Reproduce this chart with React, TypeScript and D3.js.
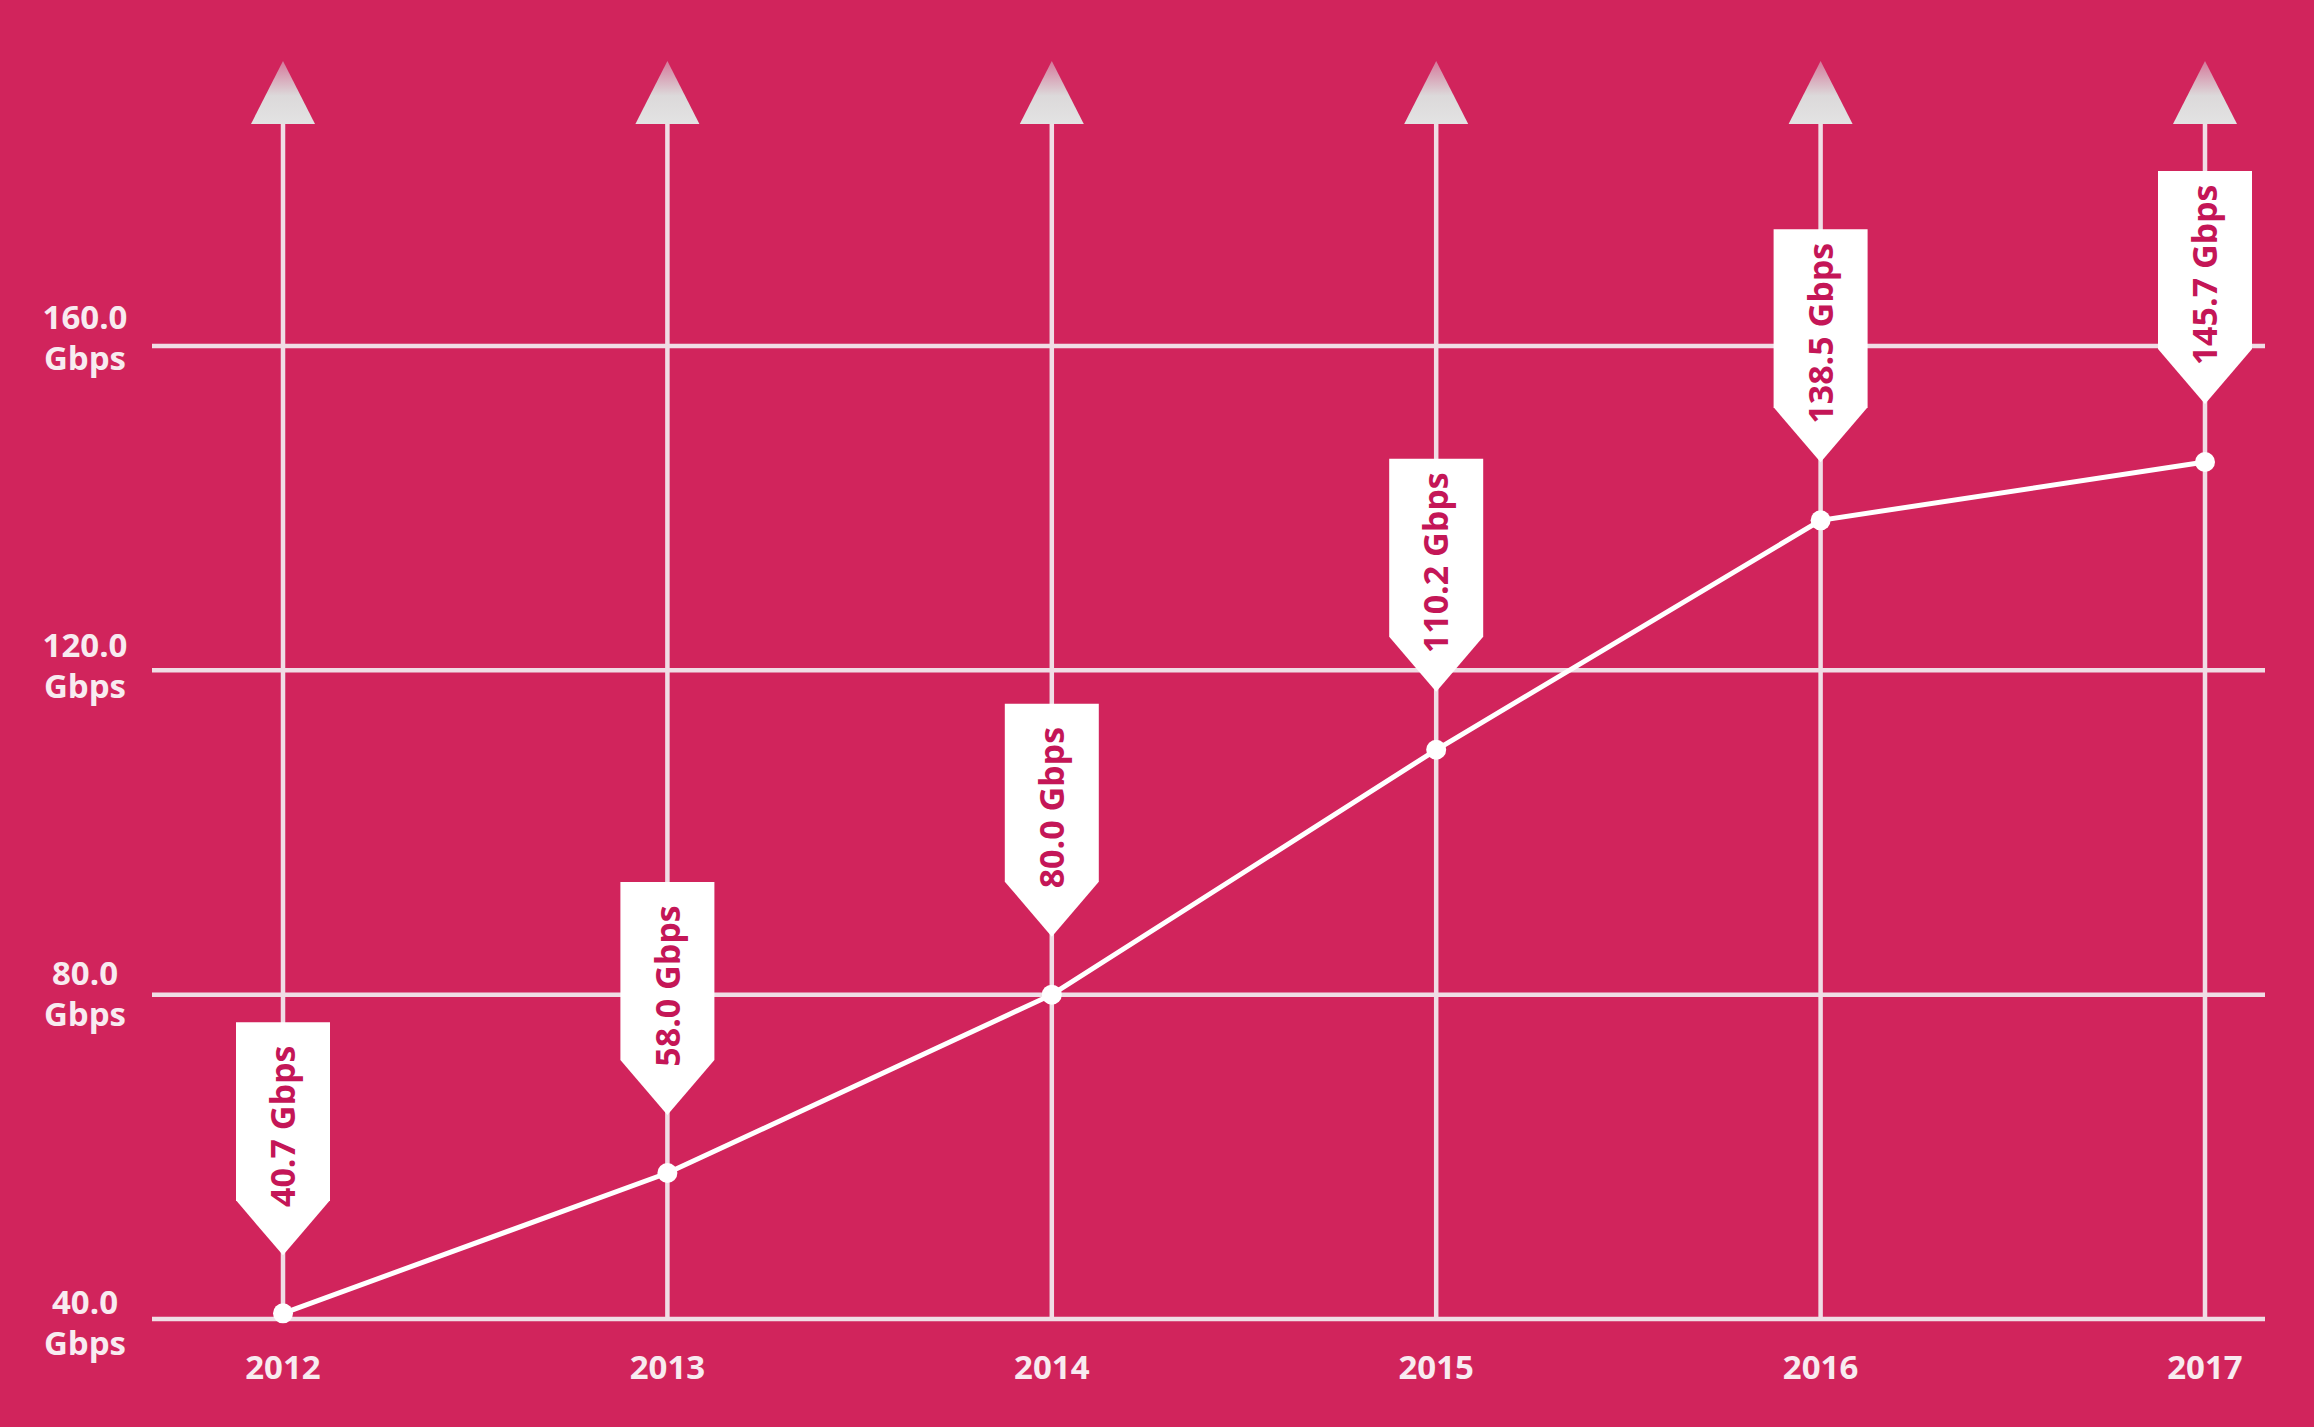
import React from "react";
import * as d3 from "d3";

const years = ["2012", "2013", "2014", "2015", "2016", "2017"];
const values = [40.7, 58.0, 80.0, 110.2, 138.5, 145.7];
const yTicks = [40, 80, 120, 160];
const unit = "Gbps";

const W = 2314;
const H = 1427;
const BG = "#d1245c";
const LIGHT = "#f0dde5";
const TEXT = "#f8ebf0";
const CALLOUT_TEXT = "#c41657";
const FONT = "'Open Sans', 'Noto Sans', sans-serif";

export default function App() {
  const x = d3.scalePoint<string>().domain(years).range([283, 2205]);
  const y = d3.scaleLinear().domain([40, 160]).range([1319, 346]);
  const gridX0 = 152;
  const gridX1 = 2265;
  const arrowTip = 61;
  const arrowBase = 124;
  const arrowHalf = 32;

  const line = d3
    .line<number>()
    .x((_, i) => x(years[i]) as number)
    .y((v) => y(v));

  const boxW = 94;
  const rectH = 178;
  const pointH = 55;
  const gap = 58;

  return (
    <div style={{ position: "absolute", left: 0, top: 0, width: W, height: H }}>
      <svg width={W} height={H} style={{ display: "block" }}>
        <defs>
          <linearGradient id="arrowGrad" x1="0" y1="0" x2="0" y2="1">
            <stop offset="0%" stopColor="#d5789a" />
            <stop offset="55%" stopColor="#dcd9da" />
            <stop offset="100%" stopColor="#e3e3e3" />
          </linearGradient>
        </defs>
        <rect x={0} y={0} width={W} height={H} fill={BG} />

        {yTicks.map((t) => (
          <line
            key={"g" + t}
            x1={gridX0}
            x2={gridX1}
            y1={y(t)}
            y2={y(t)}
            stroke={LIGHT}
            strokeWidth={4.5}
          />
        ))}

        {years.map((yr) => {
          const cx = x(yr) as number;
          return (
            <g key={"v" + yr}>
              <line
                x1={cx}
                x2={cx}
                y1={arrowBase}
                y2={y(40)}
                stroke={LIGHT}
                strokeWidth={4.5}
              />
              <path
                d={`M${cx},${arrowTip} L${cx + arrowHalf},${arrowBase} L${cx - arrowHalf},${arrowBase} Z`}
                fill="url(#arrowGrad)"
              />
            </g>
          );
        })}

        {yTicks.map((t) => {
          const ly = y(t) - (17 + ((t - 40) / 120) * 12);
          return (
            <g key={"l" + t} fontFamily={FONT} fontWeight={700} fontSize={33} fill={TEXT} textAnchor="middle">
              <text x={85} y={ly} dy="0.35em">
                {t.toFixed(1)}
              </text>
              <text x={85} y={ly + 41} dy="0.35em">
                {unit}
              </text>
            </g>
          );
        })}

        {years.map((yr) => (
          <text
            key={"x" + yr}
            x={x(yr) as number}
            y={1367}
            dy="0.35em"
            textAnchor="middle"
            fontFamily={FONT}
            fontWeight={700}
            fontSize={33}
            fill={TEXT}
          >
            {yr}
          </text>
        ))}

        <path d={line(values) || ""} fill="none" stroke="#ffffff" strokeWidth={5} />
        {values.map((v, i) => (
          <circle key={"c" + i} cx={x(years[i]) as number} cy={y(v)} r={10} fill="#ffffff" />
        ))}

        {values.map((v, i) => {
          const cx = x(years[i]) as number;
          const tip = y(v) - gap;
          const rb = tip - pointH;
          const top = rb - rectH;
          const half = boxW / 2;
          const ty = top + rectH / 2 + 15;
          return (
            <g key={"b" + i}>
              <path
                d={`M${cx - half},${top} L${cx + half},${top} L${cx + half},${rb} L${cx},${tip} L${cx - half},${rb} Z`}
                fill="#ffffff"
              />
              <text
                transform={`translate(${cx},${ty}) rotate(-90)`}
                textAnchor="middle"
                dy="0.36em"
                fontFamily={FONT}
                fontWeight={700}
                fontSize={34}
                fill={CALLOUT_TEXT}
              >
                {v.toFixed(1) + " " + unit}
              </text>
            </g>
          );
        })}
      </svg>
    </div>
  );
}
